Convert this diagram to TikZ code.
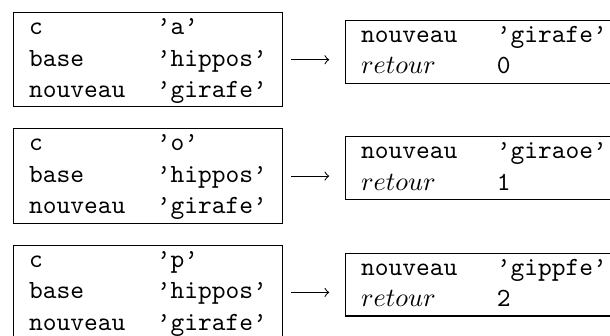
\documentclass[tikz,border=0pt]{standalone}
\usetikzlibrary{positioning}
\tikzstyle{etat}=[draw, inner sep=0pt, font=\ttfamily]
\tikzstyle{fleche}=[->, shorten <=3pt, shorten >=6pt]

\begin{document}
\begin{tikzpicture}
    \def\larg{232.8pt};
    \def\haut{127.9pt};
    \def\entree#1{\begin{tabular}{ll}c & ’#1’\\base & ’hippos’\\nouveau & ’girafe’\end{tabular}}
    \def\sortie#1#2{\begin{tabular}{l@{\hspace{15pt}}l}nouveau & ’#1’\\$retour$ & #2\end{tabular}}

    % cadre de la figure
    \useasboundingbox (0,0) rectangle (\larg,-\haut);
    \clip (0,0) rectangle (\larg,-\haut);

    % variables avant l'appel
    \node[etat, anchor=north west] (entree1) at (4.9pt,-4.6pt) {\entree{a}};
    \node[etat, below=8pt of entree1] (entree2) {\entree{o}};
    \node[etat, below=8pt of entree2] (entree3) {\entree{p}};

    % variables après l'appel
    \node[etat, right=23.6pt of entree1, yshift=3pt] (sortie1) {\sortie{girafe}{0}};
    \node[etat, right=23.6pt of entree2, yshift=3pt] (sortie2) {\sortie{giraoe}{1}};
    \node[etat, right=23.6pt of entree3, yshift=3pt] (sortie3) {\sortie{gippfe}{2}};

    % flèches
    \draw[fleche] (entree1.east) -- (entree1.east -| sortie1.west);
    \draw[fleche] (entree2.east) -- (entree2.east -| sortie2.west);
    \draw[fleche] (entree3.east) -- (entree3.east -| sortie3.west);
\end{tikzpicture}
\end{document}
